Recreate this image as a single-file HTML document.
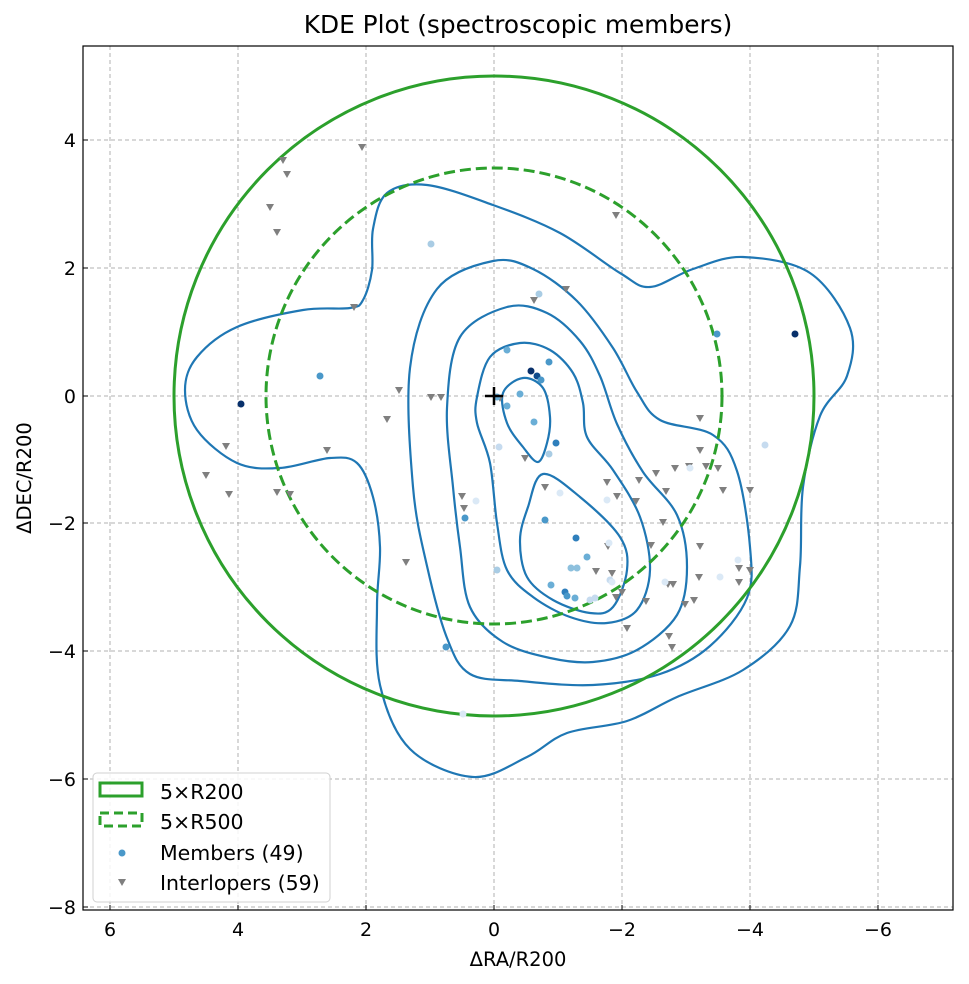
<!DOCTYPE html>
<html><head><meta charset="utf-8"><style>
html,body{margin:0;padding:0;background:#fff;}
svg{display:block;font-family:"DejaVu Sans","Liberation Sans",sans-serif;}
</style></head><body>
<svg id="s" width="969" height="984" viewBox="0 0 969 984" xmlns="http://www.w3.org/2000/svg">
<rect width="969" height="984" fill="#fff"/>
<defs><clipPath id="c"><rect x="83" y="46" width="870" height="864"/></clipPath></defs>
<g stroke="#b0b0b0" stroke-width="1" stroke-dasharray="4,3">
<line x1="110" y1="46" x2="110" y2="910"/><line x1="238" y1="46" x2="238" y2="910"/><line x1="366" y1="46" x2="366" y2="910"/><line x1="494" y1="46" x2="494" y2="910"/><line x1="622" y1="46" x2="622" y2="910"/><line x1="750" y1="46" x2="750" y2="910"/><line x1="878" y1="46" x2="878" y2="910"/>
<line x1="83" y1="140" x2="953" y2="140"/><line x1="83" y1="268" x2="953" y2="268"/><line x1="83" y1="396" x2="953" y2="396"/><line x1="83" y1="523" x2="953" y2="523"/><line x1="83" y1="651" x2="953" y2="651"/><line x1="83" y1="779" x2="953" y2="779"/><line x1="83" y1="907" x2="953" y2="907"/>
</g>
<g clip-path="url(#c)">
<g fill="none" stroke="#1f77b4" stroke-width="2.2" stroke-linejoin="round" id="cont">
<polygon class="sm" points="377,606 380,547 373,497 357,463 330,458 280,468 237,463 197,430 185,390 197,357 237,327 303,310 350,308 363,300 372,270 373,229 387,193 427,185 493,205 560,233 620,273 650,287 693,269 743,257 810,273 850,328 847,376 820,416 803,487 800,566 790,626 743,670 677,697 627,721 567,733 527,757 473,777 410,749 380,685"/>
<polygon class="sm" points="410,368 437,289 493,261 533,269 577,301 613,348 637,392 660,420 713,435 737,471 750,547 747,598 710,646 660,674 593,685 520,681 470,674 447,638 427,566 413,487"/>
<polygon class="sm" points="447,408 460,337 507,307 547,313 580,341 600,376 617,424 643,472 677,515 687,567 677,615 637,650 593,662 550,658 503,642 470,607 460,547 453,487"/>
<polygon class="sm" points="477,397 490,357 520,343 550,350 573,373 583,403 587,437 613,470 640,517 650,570 637,610 607,623 570,617 533,597 507,570 497,523 490,463 477,423"/>
<polygon class="sm" points="503,393 523,378 543,388 550,417 547,443 538,462 523,447 507,423"/>
<polygon class="sm" points="543,474 580,497 620,537 627,570 613,607 590,613 553,600 527,577 520,540 528,507"/>
</g>
<circle cx="494" cy="396" r="320" fill="none" stroke="#2ca02c" stroke-width="3"/>
<circle cx="494" cy="396" r="228" fill="none" stroke="#2ca02c" stroke-width="3" stroke-dasharray="11,5"/>
<g fill="#7f7f7f" id="tri"></g>
<g id="mem"></g>
<path d="M485 396h18M494 387v18" stroke="#000" stroke-width="2.5"/>
</g>
<rect x="83" y="46" width="870" height="864" fill="none" stroke="#000" stroke-width="1.2"/>
<g stroke="#000" stroke-width="1">
<line x1="110" y1="910" x2="110" y2="905"/><line x1="238" y1="910" x2="238" y2="905"/><line x1="366" y1="910" x2="366" y2="905"/><line x1="494" y1="910" x2="494" y2="905"/><line x1="622" y1="910" x2="622" y2="905"/><line x1="750" y1="910" x2="750" y2="905"/><line x1="878" y1="910" x2="878" y2="905"/>
<line x1="83" y1="140" x2="88" y2="140"/><line x1="83" y1="268" x2="88" y2="268"/><line x1="83" y1="396" x2="88" y2="396"/><line x1="83" y1="523" x2="88" y2="523"/><line x1="83" y1="651" x2="88" y2="651"/><line x1="83" y1="779" x2="88" y2="779"/><line x1="83" y1="907" x2="88" y2="907"/>
</g>
<g font-size="19" fill="#000" text-anchor="middle">
<text x="110" y="936">6</text><text x="238" y="936">4</text><text x="366" y="936">2</text><text x="494" y="936">0</text><text x="622" y="936">−2</text><text x="750" y="936">−4</text><text x="878" y="936">−6</text>
</g>
<g font-size="19" fill="#000" text-anchor="end">
<text x="76" y="147">4</text><text x="76" y="275">2</text><text x="76" y="403">0</text><text x="76" y="530">−2</text><text x="76" y="658">−4</text><text x="76" y="786">−6</text><text x="76" y="914">−8</text>
</g>
<text x="518" y="966" font-size="19.5" text-anchor="middle">ΔRA/R200</text>
<text transform="translate(31,478) rotate(-90)" font-size="19.5" text-anchor="middle">ΔDEC/R200</text>
<text x="518" y="33" font-size="24.8" text-anchor="middle">KDE Plot (spectroscopic members)</text>
<rect x="93" y="773" width="237" height="129" rx="4" fill="#fff" fill-opacity="0.85" stroke="#d0d0d0"/>
<rect x="100" y="783" width="42" height="13" fill="none" stroke="#2ca02c" stroke-width="3"/>
<rect x="100" y="813" width="42" height="13" fill="none" stroke="#2ca02c" stroke-width="3" stroke-dasharray="9,5"/>
<circle cx="122" cy="853" r="3.5" fill="#4a98c9"/>
<path d="M118 879h8l-4 7z" fill="#7f7f7f"/>
<g font-size="20.5" fill="#000">
<text x="160" y="799">5×R200</text><text x="160" y="829">5×R500</text><text x="160" y="860">Members (49)</text><text x="160" y="890">Interlopers (59)</text>
</g>
</svg>
<script>
(function(){
var NS="http://www.w3.org/2000/svg";
document.querySelectorAll("polygon.sm").forEach(function(p){
 var a=p.getAttribute("points").trim().split(/\s+/).map(function(s){return s.split(",").map(Number);});
 var n=a.length,d="M"+a[0][0]+" "+a[0][1];
 for(var i=0;i<n;i++){var p0=a[(i-1+n)%n],p1=a[i],p2=a[(i+1)%n],p3=a[(i+2)%n];
  var c1=[p1[0]+(p2[0]-p0[0])/6,p1[1]+(p2[1]-p0[1])/6],c2=[p2[0]-(p3[0]-p1[0])/6,p2[1]-(p3[1]-p1[1])/6];
  d+=" C"+c1[0].toFixed(1)+" "+c1[1].toFixed(1)+" "+c2[0].toFixed(1)+" "+c2[1].toFixed(1)+" "+p2[0]+" "+p2[1];}
 var q=document.createElementNS(NS,"path");q.setAttribute("d",d+"Z");p.parentNode.replaceChild(q,p);
});
var T=[[283,160],[287,174],[270,207],[277,232],[362,147],[354,307],[226,446],[206,475],[229,494],[277,492],[290,494],[327,450],[399,390],[387,419],[431,397],[441,397],[406,562],[462,496],[464,508],[500,398],[534,300],[566,289],[616,215],[525,458],[545,487],[607,482],[617,496],[608,546],[639,480],[656,473],[666,491],[675,468],[689,466],[700,450],[700,418],[706,466],[718,468],[723,490],[663,522],[636,501],[651,545],[700,546],[612,573],[616,597],[627,628],[646,601],[669,636],[672,647],[668,584],[673,584],[685,604],[694,600],[699,577],[750,570],[739,582],[750,490],[739,568],[622,592],[596,571]];
var g=document.getElementById("tri");
T.forEach(function(t){var e=document.createElementNS(NS,"path");e.setAttribute("d","M"+(t[0]-4)+" "+(t[1]-3)+"h8l-4 7z");g.appendChild(e);});
var M=[[431,244,"#a9cce4"],[320,376,"#4a98c9"],[241,404,"#08306b"],[507,350,"#6aaed6"],[539,294,"#a9cce4"],[531,371,"#08306b"],[537,376,"#0d4a8c"],[541,380,"#4a98c9"],[549,362,"#4a98c9"],[520,394,"#6aaed6"],[507,406,"#6aaed6"],[497,397,"#6aaed6"],[534,422,"#6aaed6"],[549,454,"#a9cce4"],[556,443,"#2f7fbc"],[499,447,"#c6dbef"],[545,520,"#4a98c9"],[465,518,"#4a98c9"],[476,501,"#dbe9f6"],[497,570,"#a9cce4"],[560,493,"#dbe9f6"],[576,538,"#2f7fbc"],[587,557,"#6aaed6"],[551,585,"#6aaed6"],[565,592,"#2f7fbc"],[567,596,"#4a98c9"],[571,568,"#8dc0dd"],[577,568,"#8dc0dd"],[575,598,"#6aaed6"],[590,600,"#c6dbef"],[595,598,"#c6dbef"],[610,580,"#c6dbef"],[612,582,"#dbe9f6"],[607,500,"#dbe9f6"],[446,647,"#4a98c9"],[463,714,"#dbe9f6"],[717,334,"#4a98c9"],[795,334,"#08306b"],[765,445,"#c6dbef"],[690,468,"#dbe9f6"],[720,577,"#dbe9f6"],[665,582,"#dbe9f6"],[738,560,"#dbe9f6"],[609,543,"#dbe9f6"]];
var h=document.getElementById("mem");
M.forEach(function(m){var e=document.createElementNS(NS,"circle");e.setAttribute("cx",m[0]);e.setAttribute("cy",m[1]);e.setAttribute("r",3.5);e.setAttribute("fill",m[2]);h.appendChild(e);});
})();
</script>
</body></html>
